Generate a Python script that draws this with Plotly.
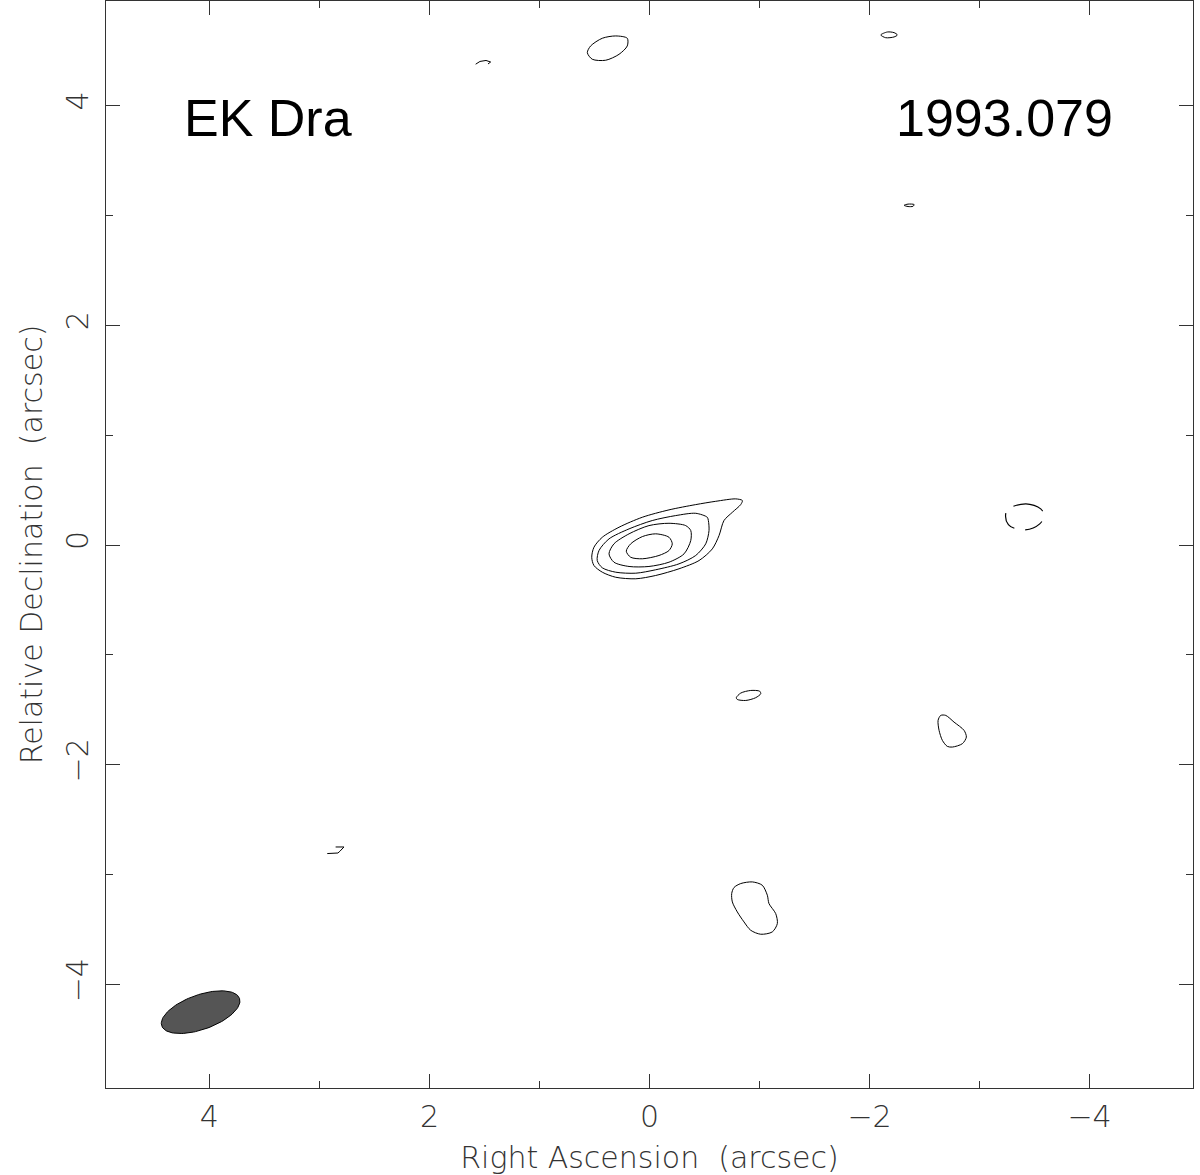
import numpy as np
import plotly.graph_objects as go

# contour vertices (arcsec offsets: RA, Dec)
core_1 = [(-0.844, 0.405), (-0.784, 0.420), (-0.602, 0.398), (-0.420, 0.368), (-0.177, 0.320),
          (0.065, 0.253), (0.277, 0.162), (0.429, 0.071), (0.505, -0.020), (0.525, -0.111),
          (0.505, -0.186), (0.429, -0.247), (0.307, -0.293), (0.125, -0.307), (-0.056, -0.277),
          (-0.268, -0.216), (-0.450, -0.141), (-0.571, -0.035), (-0.632, 0.086), (-0.677, 0.223),
          (-0.753, 0.298), (-0.829, 0.368)]
core_2 = [(-0.525, 0.253), (-0.420, 0.289), (-0.238, 0.268), (-0.025, 0.223), (0.186, 0.147),
          (0.368, 0.056), (0.459, -0.050), (0.475, -0.141), (0.429, -0.207), (0.307, -0.247),
          (0.125, -0.256), (-0.056, -0.225), (-0.268, -0.171), (-0.420, -0.095), (-0.511, 0.011),
          (-0.541, 0.132), (-0.535, 0.223)]
core_3 = [(-0.329, 0.177), (-0.177, 0.198), (0.005, 0.177), (0.186, 0.102), (0.323, 0.011),
          (0.368, -0.080), (0.323, -0.156), (0.186, -0.195), (0.005, -0.195), (-0.177, -0.156),
          (-0.314, -0.080), (-0.375, 0.041), (-0.375, 0.132)]
core_4 = [(-0.177, 0.071), (-0.056, 0.102), (0.065, 0.077), (0.171, 0.011), (0.211, -0.056),
          (0.171, -0.111), (0.065, -0.125), (-0.086, -0.095), (-0.177, -0.050), (-0.207, 0.011)]

blob_top = [(0.565, 4.480), (0.535, 4.541), (0.429, 4.611), (0.307, 4.632), (0.202, 4.611),
            (0.202, 4.541), (0.277, 4.465), (0.398, 4.411), (0.520, 4.420)]
blob_topright = [(-2.102, 4.641), (-2.162, 4.668), (-2.223, 4.662), (-2.253, 4.641),
                 (-2.223, 4.623), (-2.147, 4.616)]
blob_small = [(-2.314, 3.091), (-2.350, 3.102), (-2.405, 3.098), (-2.395, 3.082), (-2.350, 3.080)]
blob_mid = [(-0.789, -1.389), (-0.829, -1.347), (-0.920, -1.323), (-1.002, -1.330),
            (-1.011, -1.353), (-0.965, -1.389), (-0.875, -1.414), (-0.798, -1.405)]
blob_right = [(-2.647, -1.550), (-2.693, -1.550), (-2.768, -1.611), (-2.859, -1.686),
              (-2.880, -1.747), (-2.844, -1.807), (-2.753, -1.838), (-2.707, -1.832),
              (-2.662, -1.777), (-2.632, -1.686), (-2.623, -1.595)]
blob_bottom = [(-0.829, -3.080), (-0.935, -3.065), (-1.025, -3.095), (-1.071, -3.186),
               (-1.086, -3.262), (-1.147, -3.353), (-1.162, -3.444), (-1.116, -3.520),
               (-1.011, -3.541), (-0.920, -3.505), (-0.859, -3.429), (-0.798, -3.338),
               (-0.753, -3.247), (-0.747, -3.171), (-0.768, -3.116)]

# open fragments
frag_top = [(1.580, 4.375), (1.541, 4.400), (1.486, 4.409), (1.444, 4.395), (1.468, 4.377)]
frag_left = [(2.853, -2.747), (2.777, -2.747), (2.814, -2.786), (2.832, -2.802), (2.929, -2.807)]

# negative contour (dashed)
neg_right = [(-3.247, 0.314), (-3.420, 0.375), (-3.556, 0.329), (-3.586, 0.268),
             (-3.547, 0.193), (-3.405, 0.138), (-3.262, 0.186)]

# restoring beam (arcsec, deg)
beam_center = (4.08, -4.25)
beam_major = 0.75
beam_minor = 0.315
beam_pa = -70.5

closed = [core_1, core_2, core_3, core_4, blob_top, blob_topright, blob_small,
          blob_mid, blob_right, blob_bottom]
open_ = [frag_top, frag_left]

fig = go.Figure()

# beam ellipse
t = np.linspace(0, 2 * np.pi, 120)
pa = np.radians(beam_pa)
a, b = beam_major / 2, beam_minor / 2
ex = beam_center[0] + a * np.cos(t) * np.sin(pa) + b * np.sin(t) * np.cos(pa)
ey = beam_center[1] + a * np.cos(t) * np.cos(pa) - b * np.sin(t) * np.sin(pa)
fig.add_trace(go.Scatter(x=ex, y=ey, mode="lines", fill="toself", fillcolor="#555555",
                         line=dict(color="black", width=1), hoverinfo="skip"))

for c in closed:
    xs = [p[0] for p in c] + [c[0][0]]
    ys = [p[1] for p in c] + [c[0][1]]
    fig.add_trace(go.Scatter(x=xs, y=ys, mode="lines",
                             line=dict(color="black", width=1, shape="spline", smoothing=0.8)))

for c in open_:
    fig.add_trace(go.Scatter(x=[p[0] for p in c], y=[p[1] for p in c], mode="lines",
                             line=dict(color="black", width=1)))

xs = [p[0] for p in neg_right] + [neg_right[0][0]]
ys = [p[1] for p in neg_right] + [neg_right[0][1]]
fig.add_trace(go.Scatter(x=xs, y=ys, mode="lines",
                         line=dict(color="black", width=1.2, shape="spline", dash="19px,11px")))

label_font = dict(family="DejaVu Sans", size=30, color="#333333", weight=200)
axis_common = dict(
    showgrid=False, zeroline=False, showline=True, mirror="allticks",
    linecolor="#333333", linewidth=1, automargin=False,
    ticks="inside", ticklen=14, tickwidth=1, tickcolor="#333333",
    dtick=2, tickfont=label_font,
    minor=dict(ticks="inside", ticklen=7, dtick=1, tickcolor="#333333", tickwidth=1),
)

fig.update_xaxes(range=[4.94, -4.94], tick0=0, ticklabelstandoff=2, **axis_common,
                 title=dict(text="Right Ascension  (arcsec)", standoff=17, font=label_font))
fig.update_yaxes(range=[-4.94, 4.95], tick0=0, tickangle=-90, ticklabelstandoff=5,
                 **axis_common,
                 title=dict(text="Relative Declination  (arcsec)", standoff=8, font=label_font))

fig.add_annotation(x=4.25, y=3.89, xref="x", yref="y", text="EK Dra", showarrow=False,
                   xanchor="left", yanchor="middle",
                   font=dict(family="Liberation Sans", size=52, color="black"))
fig.add_annotation(x=-4.235, y=3.89, xref="x", yref="y", text="1993.079", showarrow=False,
                   xanchor="right", yanchor="middle",
                   font=dict(family="Liberation Sans", size=52, color="black"))

fig.update_layout(
    width=1200, height=1175,
    margin=dict(l=106, r=7, t=1, b=87),
    paper_bgcolor="white", plot_bgcolor="white",
    showlegend=False,
)

# the page body has a default margin; drop it so the figure fills the window
fig.write_html("out.html", config={"displayModeBar": False},
               post_script="document.body.style.margin = '0';")
